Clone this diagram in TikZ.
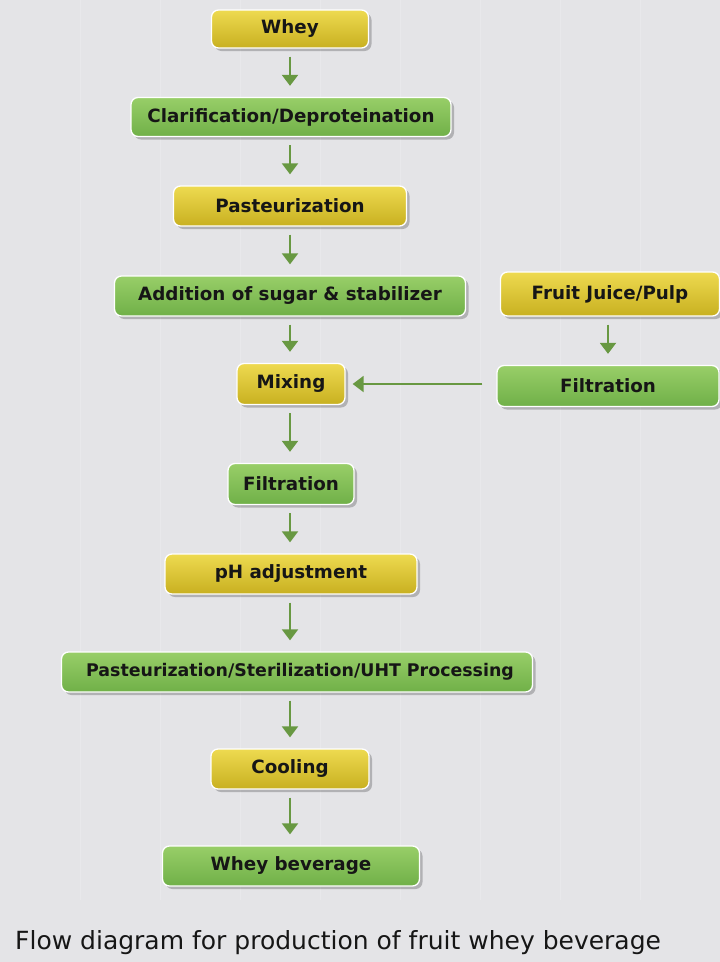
\documentclass[tikz,border=0pt]{standalone}
\usepackage{fontspec}
\setmainfont{DejaVu Sans}
\usetikzlibrary{shadows,arrows.meta}
\definecolor{bg}{RGB}{228,228,231}
\definecolor{ytop}{RGB}{238,218,80}
\definecolor{ybot}{RGB}{200,176,32}
\definecolor{gtop}{RGB}{152,206,104}
\definecolor{gbot}{RGB}{112,176,72}
\definecolor{arr}{RGB}{104,152,66}
\definecolor{txt}{RGB}{22,22,22}
\begin{document}
\begin{tikzpicture}[x=1pt,y=-1pt,
  box/.style={rounded corners=7pt, draw=white, line width=1.3pt,
    font=\fontsize{18.3}{21}\selectfont\bfseries, text=txt, inner sep=0pt,
    drop shadow={shadow xshift=3pt, shadow yshift=-3pt, fill=black, opacity=0.22}},
  ybox/.style={box, top color=ytop, bottom color=ybot},
  gbox/.style={box, top color=gtop, bottom color=gbot},
  flow/.style={draw=arr, line width=2pt, -{Triangle[width=16pt,length=11pt]}, arr,
    shorten <=8pt, shorten >=11pt}]
\useasboundingbox (0,0) rectangle (720,962);
\fill[bg] (0,0) rectangle (720,962);
\foreach \xx in {80,160,240,320,400,480,560,640}
  \draw[white, opacity=0.18, line width=0.6pt] (\xx,0) -- (\xx,900);

\node[ybox, minimum width=157pt, minimum height=38pt] (whey) at (290,29) {Whey};
\node[gbox, minimum width=320pt, minimum height=39pt] (clar) at (291,117) {Clarification/Deproteination};
\node[ybox, minimum width=233pt, minimum height=40pt] (past) at (290,206) {Pasteurization};
\node[gbox, minimum width=351pt, minimum height=40pt] (sugar) at (290,296) {Addition of sugar \& stabilizer};
\node[ybox, minimum width=219pt, minimum height=44pt] (fruit) at (610,294) {Fruit Juice/Pulp};
\node[gbox, minimum width=222pt, minimum height=41pt] (filtb) at (608,386) {Filtration};
\node[ybox, minimum width=108pt, minimum height=41pt] (mix) at (291,384) {Mixing};
\node[gbox, minimum width=126pt, minimum height=41pt] (filt) at (291,484) {Filtration};
\node[ybox, minimum width=252pt, minimum height=40pt] (ph) at (291,574) {pH adjustment};
\node[gbox, minimum width=471pt, minimum height=40pt, font=\fontsize{17.4}{21}\selectfont\bfseries] (uht) at (297,672) {\hspace*{6pt}Pasteurization/Sterilization/UHT Processing};
\node[ybox, minimum width=158pt, minimum height=40pt] (cool) at (290,769) {Cooling};
\node[gbox, minimum width=257pt, minimum height=40pt] (bev) at (291,866) {Whey beverage};

\draw[flow] (whey.south) -- (whey.south |- clar.north);
\draw[flow] (whey.south |- clar.south) -- (whey.south |- past.north);
\draw[flow] (whey.south |- past.south) -- (whey.south |- sugar.north);
\draw[flow] (whey.south |- sugar.south) -- (whey.south |- mix.north);
\draw[flow] (whey.south |- mix.south) -- (whey.south |- filt.north);
\draw[flow] (whey.south |- filt.south) -- (whey.south |- ph.north);
\draw[flow] (whey.south |- ph.south) -- (whey.south |- uht.north);
\draw[flow] (whey.south |- uht.south) -- (whey.south |- cool.north);
\draw[flow] (whey.south |- cool.south) -- (whey.south |- bev.north);
\draw[flow] (filtb.north |- fruit.south) -- (filtb.north);
\draw[flow, shorten <=14pt, shorten >=7pt] (filtb.west |- mix.east) -- (mix.east);

\node[anchor=west, inner sep=0pt, font=\fontsize{25}{30}\selectfont, text=txt] (cap) at (15,943) {Flow diagram for production of fruit whey beverage};
\end{tikzpicture}
\end{document}
